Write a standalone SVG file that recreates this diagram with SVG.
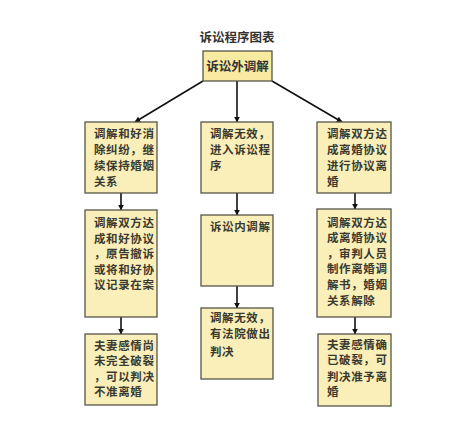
<svg xmlns="http://www.w3.org/2000/svg" width="463" height="438" viewBox="0 0 463 438">
<defs>
<marker id="arr" viewBox="0 0 10 10" refX="9" refY="5" markerWidth="6" markerHeight="6" orient="auto" markerUnits="userSpaceOnUse">
<path d="M0,0 L10,5 L0,10 z" fill="#111"/>
</marker>
</defs>
<style>
.box{fill:#FAEFB8;stroke:#55554a;stroke-width:1.3}
.top{fill:#F8EAA0;stroke:#55554a;stroke-width:1.3}
.t{font-family:"Noto Sans CJK SC","Noto Sans",sans-serif;font-size:11.5px;font-weight:bold;fill:#3a3a30;letter-spacing:0.6px}
.title{font-family:"Noto Sans CJK SC","Noto Sans",sans-serif;font-size:12.5px;font-weight:bold;fill:#333}
.c{stroke:#111;stroke-width:1.6;fill:none;marker-end:url(#arr)}
</style>
<rect width="463" height="438" fill="#fff"/>
<text class="title" x="237" y="42" text-anchor="middle">诉讼程序图表</text>
<g id="connectors">
<line class="c" x1="203" y1="81" x2="135" y2="122"/>
<line class="c" x1="237" y1="81" x2="237" y2="122"/>
<line class="c" x1="272" y1="81" x2="342" y2="122"/>
<line class="c" x1="121" y1="193" x2="121" y2="210"/>
<line class="c" x1="121" y1="317" x2="121" y2="334"/>
<line class="c" x1="237" y1="193" x2="237" y2="215"/>
<line class="c" x1="237" y1="286" x2="237" y2="308"/>
<line class="c" x1="355" y1="193" x2="355" y2="209"/>
<line class="c" x1="355" y1="317" x2="355" y2="334"/>
</g>
<g id="n0">
<rect class="top" x="203" y="51" width="69" height="30"/>
<text class="title" x="237.5" y="70.5" text-anchor="middle">诉讼外调解</text>
</g>
<g id="n1">
<rect class="box" x="85" y="122" width="72" height="71"/>
<text class="t" x="94" y="138">调解和好消</text>
<text class="t" x="94" y="154">除纠纷，继</text>
<text class="t" x="94" y="170">续保持婚姻</text>
<text class="t" x="94" y="186">关系</text>
</g>
<g id="n2">
<rect class="box" x="201" y="122" width="72" height="71"/>
<text class="t" x="210" y="138">调解无效，</text>
<text class="t" x="210" y="154">进入诉讼程</text>
<text class="t" x="210" y="170">序</text>
</g>
<g id="n3">
<rect class="box" x="317" y="122" width="74" height="71"/>
<text class="t" x="327" y="138">调解双方达</text>
<text class="t" x="327" y="154">成离婚协议</text>
<text class="t" x="327" y="170">进行协议离</text>
<text class="t" x="327" y="186">婚</text>
</g>
<g id="n4">
<rect class="box" x="85" y="210" width="72" height="107"/>
<text class="t" x="94" y="227">调解双方达</text>
<text class="t" x="94" y="242.5">成和好协议</text>
<text class="t" x="94" y="258">，原告撤诉</text>
<text class="t" x="94" y="273.5">或将和好协</text>
<text class="t" x="94" y="289">议记录在案</text>
</g>
<g id="n5">
<rect class="box" x="201" y="215" width="72" height="71"/>
<text class="t" x="210" y="231">诉讼内调解</text>
</g>
<g id="n6">
<rect class="box" x="201" y="308" width="72" height="71"/>
<text class="t" x="210" y="322">调解无效，</text>
<text class="t" x="210" y="338">有法院做出</text>
<text class="t" x="210" y="356">判决</text>
</g>
<g id="n7">
<rect class="box" x="317" y="209" width="74" height="108"/>
<text class="t" x="327" y="227">调解双方达</text>
<text class="t" x="327" y="242">成离婚协议</text>
<text class="t" x="327" y="257.5">，审判人员</text>
<text class="t" x="327" y="273">制作离婚调</text>
<text class="t" x="327" y="289">解书，婚姻</text>
<text class="t" x="327" y="304.5">关系解除</text>
</g>
<g id="n8">
<rect class="box" x="85" y="334" width="72" height="71"/>
<text class="t" x="94" y="350">夫妻感情尚</text>
<text class="t" x="94" y="365">未完全破裂</text>
<text class="t" x="94" y="381">，可以判决</text>
<text class="t" x="94" y="396">不准离婚</text>
</g>
<g id="n9">
<rect class="box" x="318" y="334" width="73" height="72"/>
<text class="t" x="327" y="349">夫妻感情确</text>
<text class="t" x="327" y="364">已破裂，可</text>
<text class="t" x="327" y="381">判决准予离</text>
<text class="t" x="327" y="396">婚</text>
</g>
</svg>
